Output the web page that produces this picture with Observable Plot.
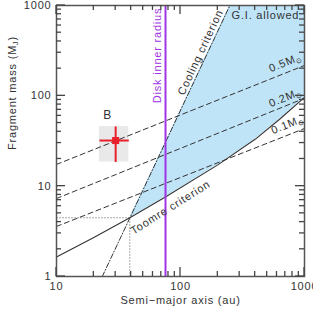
<!DOCTYPE html>
<html><head><meta charset="utf-8">
<script src="https://cdn.jsdelivr.net/npm/d3@7"></script>
<script src="https://cdn.jsdelivr.net/npm/@observablehq/plot@0.6"></script>
<style>
body{margin:0;background:#fff}
#chart svg text{letter-spacing:0.8px}
</style></head><body><div id="chart"></div>
<script>
// ---- data ----
const toomreAu   = [10, 20, 39, 75, 200, 400, 630, 1000];
const toomreMass = [1.64, 2.70, 4.47, 7.55, 17.2, 33, 55, 96];
const coolingAu   = [23.4, 250];
const coolingMass = [1, 1000];
const diskAu     = [10, 1000];
const diskMass05 = [17.4, 217];
const diskMass02 = [7.3, 94];
const diskMass01 = [3.58, 43.5];
const diskNames  = ["0.5M_⊙", "0.2M_⊙", "0.1M_⊙"];
const innerRadiusAu = [75.7];
const critAu = [39];
const critMass = [4.47];
const objName = ["B"];
const objAu = [30], objMass = [32];
const objAuLo = [22.2], objAuHi = [38.3];
const objMassLo = [18.5], objMassHi = [45.8];
const xMajor = [10, 100, 1000];
const xMinor = [20,30,40,50,60,70,80,90,200,300,400,500,600,700,800,900];
const yMajor = [1, 10, 100, 1000];
const yMinor = [2,3,4,5,6,7,8,9,20,30,40,50,60,70,80,90,200,300,400,500,600,700,800,900];
const xTitle = "Semi−major axis (au)";
const yTitle = "Fragment mass (M_J)";
// label anchors (data units)
const lblCooling = {text: "Cooling criterion", au: 145, mass: 303};
const lblAllowed = {text: "G.I. allowed", au: 484, mass: 777};
const lblToomre  = {text: "Toomre criterion", au: 83, mass: 5.81};
const lblInner   = {text: "Disk inner radius", au: 65.3, mass: 280};
const lblDisk    = [{au: 703, mass: 234}, {au: 703, mass: 96}, {au: 730, mass: 48.2}];
const lblObj     = {au: 25.8, mass: 60.7};

// ---- build tables ----
const L = Math.log10;
function interpLog(xs, ys, x) {
  let i = 0;
  while (i < xs.length - 2 && x > xs[i+1]) i++;
  const t = (L(x) - L(xs[i])) / (L(xs[i+1]) - L(xs[i]));
  return Math.pow(10, L(ys[i]) + t * (L(ys[i+1]) - L(ys[i])));
}
const areaX = Array.from(new Set([critAu[0], ...toomreAu.filter(a => a > critAu[0]), coolingAu[1]])).sort((a,b)=>a-b);
const areaData = areaX.map(a => {
  const lo = interpLog(toomreAu, toomreMass, a);
  const hi = Math.max(lo, Math.min(1000, interpLog(coolingAu, coolingMass, a)));
  return {a, lo, hi};
});
const toomre = toomreAu.map((a,i)=>({a, m: toomreMass[i]}));
const cooling = coolingAu.map((a,i)=>({a, m: coolingMass[i]}));
const disks = [diskMass05, diskMass02, diskMass01].flatMap((ms, k) => diskAu.map((a,i)=>({k, a, m: ms[i]})));
const diskLabels = diskNames.map((t,i)=>({t, ...lblDisk[i]}));
const obj = objName.map((n,i)=>({n, a: objAu[i], m: objMass[i], alo: objAuLo[i], ahi: objAuHi[i], mlo: objMassLo[i], mhi: objMassHi[i]}));

const ink = "#333";
const axisCol = "#555";
const purple = "#a035e6";
const red = "#e8202a";

const W = 313, H = 309, mL = 56, mR = 9, mT = 5, mB = 33;
const xDom = [10, 1000], yDom = [1, 1000];

const chart = Plot.plot({
  width: W, height: H,
  marginLeft: mL, marginRight: mR, marginTop: mT, marginBottom: mB,
  style: {fontFamily: "'Liberation Sans', Arial, sans-serif", fontSize: "11px", color: ink, background: "#fff"},
  x: {type: "log", domain: xDom},
  y: {type: "log", domain: yDom},
  marks: [
    Plot.areaY(areaData, {x: "a", y1: "lo", y2: "hi", fill: "#bfe4f8"}),
    Plot.rect(obj, {x1: "alo", x2: "ahi", y1: "mlo", y2: "mhi", fill: "#e9e9e9"}),
    Plot.line(disks, {x: "a", y: "m", z: "k", stroke: ink, strokeWidth: 1, strokeDasharray: "5,3.5"}),
    Plot.line(cooling, {x: "a", y: "m", stroke: ink, strokeWidth: 1, strokeDasharray: "5,2,1,2"}),
    Plot.line(toomre, {x: "a", y: "m", stroke: ink, strokeWidth: 1.1}),
    Plot.link(critAu, {x1: xDom[0], x2: d => d, y1: critMass[0], y2: critMass[0], stroke: axisCol, strokeDasharray: "1,2"}),
    Plot.link(critAu, {x1: d => d, x2: d => d, y1: yDom[0], y2: critMass[0], stroke: axisCol, strokeDasharray: "1,2"}),
    Plot.ruleX(innerRadiusAu, {stroke: purple, strokeWidth: 2}),
    Plot.link(obj, {x1: "alo", x2: "ahi", y1: "m", y2: "m", stroke: red, strokeWidth: 2}),
    Plot.link(obj, {x1: "a", x2: "a", y1: "mlo", y2: "mhi", stroke: red, strokeWidth: 2}),
    Plot.dot(obj, {x: "a", y: "m", symbol: "square", r: 4, fill: red}),
    Plot.text(obj, {x: () => lblObj.au, y: () => lblObj.mass, text: "n", fill: ink, fontSize: 12}),
    Plot.text([lblCooling], {x: "au", y: "mass", text: "text", rotate: -65, fill: ink}),
    Plot.text([lblAllowed], {x: "au", y: "mass", text: "text", fill: ink}),
    Plot.text([lblToomre], {x: "au", y: "mass", text: "text", rotate: -32, fill: ink}),
    Plot.text([lblInner], {x: "au", y: "mass", text: "text", rotate: -90, fill: purple}),
    Plot.text(diskLabels, {x: "au", y: "mass", text: "t", rotate: -22, fill: ink}),
    Plot.frame({stroke: axisCol, strokeWidth: 1.5}),
    // tick labels
    Plot.axisX(xMajor, {anchor: "bottom", tickSize: 0, tickPadding: 6, tickFormat: d => String(d), label: null, fill: ink}),
    Plot.axisY(yMajor, {anchor: "left", tickSize: 0, tickPadding: 5, tickFormat: d => String(d), label: null, fill: ink}),
    // axis titles
    Plot.text([xTitle], {frameAnchor: "bottom", dy: 27, fill: ink}),
    Plot.text([yTitle], {frameAnchor: "left", dx: -44, dy: 9, rotate: -90, fill: ink})
  ]
});
document.getElementById("chart").appendChild(chart);

// inward ticks on all four sides, positioned with the plot's own scales
const SVGNS = "http://www.w3.org/2000/svg";
const scX = chart.scale("x"), scY = chart.scale("y");
const edgeL = scX.apply(xDom[0]), edgeR = scX.apply(xDom[1]);
const edgeB = scY.apply(yDom[0]), edgeT = scY.apply(yDom[1]);
const tickGroup = document.createElementNS(SVGNS, "g");
tickGroup.setAttribute("stroke", "#444");
tickGroup.setAttribute("stroke-width", "1.3");
function seg(x1, y1, x2, y2) {
  const el = document.createElementNS(SVGNS, "line");
  el.setAttribute("x1", x1); el.setAttribute("y1", y1); el.setAttribute("x2", x2); el.setAttribute("y2", y2);
  tickGroup.appendChild(el);
}
[[xMajor, 9], [xMinor, 5]].forEach(([vals, len]) => vals.forEach(v => {
  const px = scX.apply(v);
  seg(px, edgeB, px, edgeB - len);
  seg(px, edgeT, px, edgeT + len);
}));
[[yMajor, 9], [yMinor, 5]].forEach(([vals, len]) => vals.forEach(v => {
  const py = scY.apply(v);
  seg(edgeL, py, edgeL + len, py);
  seg(edgeR, py, edgeR - len, py);
}));
chart.appendChild(tickGroup);

// subscripts: "X_Y" -> X with Y as subscript
chart.querySelectorAll("text").forEach(t => {
  if (t.children.length === 0 && t.textContent.includes("_")) {
    const s = t.textContent;
    const idx = s.indexOf("_");
    const before = s.slice(0, idx), sub = s.slice(idx+1, idx+2), after = s.slice(idx+2);
    t.textContent = "";
    t.appendChild(document.createTextNode(before));
    const ts = document.createElementNS(SVGNS, "tspan");
    ts.setAttribute("dy", "0.3em"); ts.setAttribute("font-size", "0.65em"); ts.textContent = sub;
    t.appendChild(ts);
    if (after) {
      const ta = document.createElementNS(SVGNS, "tspan");
      ta.setAttribute("dy", "-0.2em"); ta.textContent = after;
      t.appendChild(ta);
    }
  }
});
</script></body></html>
